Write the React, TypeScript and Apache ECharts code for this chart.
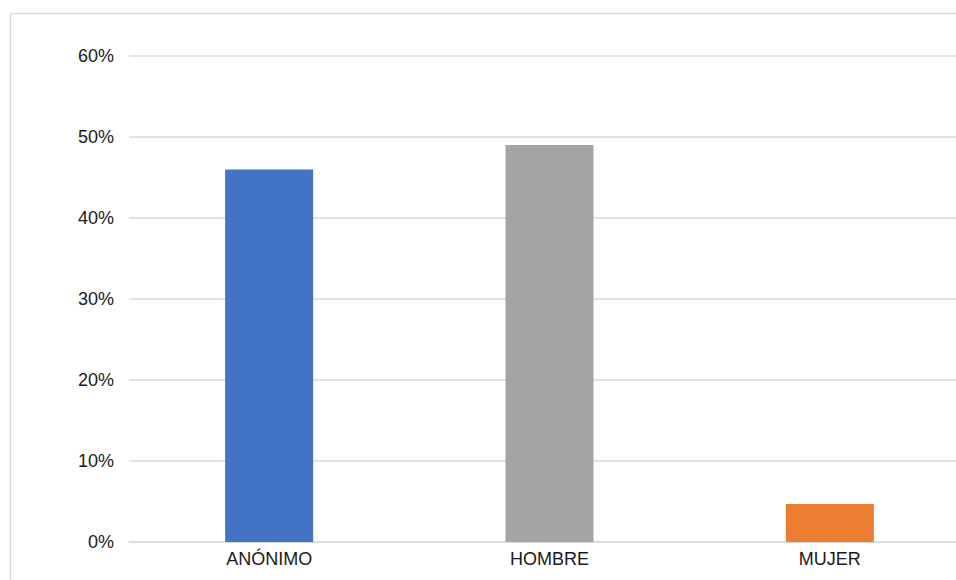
import React, { useEffect, useRef } from "react";
import * as echarts from "echarts";

const categories = ["ANÓNIMO", "HOMBRE", "MUJER"];
const values = [46, 49, 4.7];
const barColors = ["#4472C4", "#A5A5A5", "#ED7D31"];
const yTicks = { min: 0, max: 60, interval: 10 };

export default function App() {
  const ref = useRef<HTMLDivElement>(null);
  useEffect(() => {
    if (!ref.current) return;
    const chart = echarts.init(ref.current, undefined, { renderer: "svg" });
    chart.setOption({
      animation: false,
      backgroundColor: "#ffffff",
      textStyle: { fontFamily: "Liberation Sans, Arial, sans-serif" },
      graphic: [
        {
          type: "line",
          shape: { x1: 10.5, y1: 13.5, x2: 1100, y2: 13.5 },
          style: { stroke: "#d9d9d9", lineWidth: 1.5 },
          silent: true,
        },
        {
          type: "line",
          shape: { x1: 10.5, y1: 13.5, x2: 10.5, y2: 700 },
          style: { stroke: "#d9d9d9", lineWidth: 1.5 },
          silent: true,
        },
      ],
      grid: { left: 129, right: 30, top: 56, bottom: 78, containLabel: false },
      xAxis: {
        type: "category",
        data: categories,
        axisLine: { show: true, lineStyle: { color: "#d9d9d9", width: 1.5 } },
        axisTick: { show: false },
        axisLabel: { color: "#1a1a1a", fontSize: 18, margin: 8 },
        splitLine: { show: false },
      },
      yAxis: {
        type: "value",
        min: yTicks.min,
        max: yTicks.max,
        interval: yTicks.interval,
        axisLine: { show: false },
        axisTick: { show: false },
        axisLabel: {
          color: "#1a1a1a",
          fontSize: 18,
          margin: 15,
          formatter: (v: number) => `${v}%`,
        },
        splitLine: { show: true, lineStyle: { color: "#d9d9d9", width: 1.5 } },
      },
      series: [
        {
          type: "bar",
          barWidth: 88,
          data: values.map((v, i) => ({ value: v, itemStyle: { color: barColors[i] } })),
        },
      ],
    });
    return () => chart.dispose();
  }, []);
  return (
    <div
      style={{ position: "absolute", left: 0, top: 0, width: 956, height: 580, overflow: "hidden", background: "#fff" }}
    >
      <div ref={ref} style={{ width: 1000, height: 620 }} />
    </div>
  );
}
